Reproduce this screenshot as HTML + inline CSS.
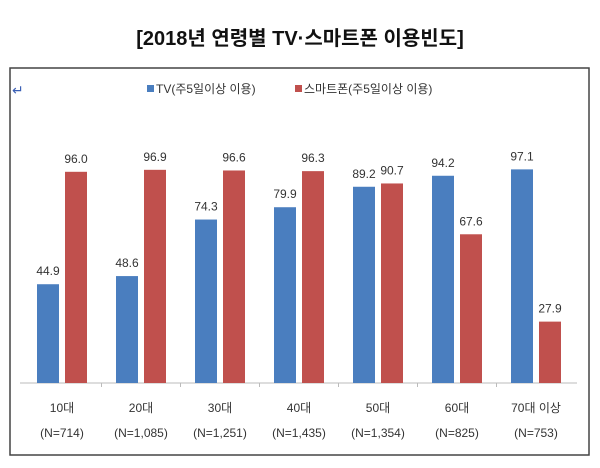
<!DOCTYPE html>
<html><head><meta charset="utf-8"><style>
body{margin:0;background:#fff;width:600px;height:468px;overflow:hidden;font-family:"Liberation Sans","Noto Sans CJK KR",sans-serif}
</style></head><body>
<svg width="600" height="468" style="position:absolute;left:0;top:0">
<text x="300" y="45" text-anchor="middle" font-size="20" font-weight="bold" fill="#111">[2018년 연령별 TV·스마트폰 이용빈도]</text>
<rect x="10" y="68" width="579" height="387" fill="none" stroke="#444" stroke-width="1.5"/>
<text x="12" y="95" font-size="14" fill="#3a5fb5">↵</text>
<g>
<rect x="147" y="85" width="7" height="7" fill="#4a7ebf"/>
<text x="156" y="93" font-size="12" fill="#333">TV(주5일이상 이용)</text>
<rect x="295" y="85" width="7" height="7" fill="#c0504d"/>
<text x="304" y="93" font-size="12" fill="#333">스마트폰(주5일이상 이용)</text>
</g>
<g id="plot"></g>
</svg>
<script>
const categories=["10대","20대","30대","40대","50대","60대","70대 이상"];
const sampleSizes=["(N=714)","(N=1,085)","(N=1,251)","(N=1,435)","(N=1,354)","(N=825)","(N=753)"];
const tvValues=[44.9,48.6,74.3,79.9,89.2,94.2,97.1];
const phoneValues=[96.0,96.9,96.6,96.3,90.7,67.6,27.9];
const NS="http://www.w3.org/2000/svg";
const g=document.getElementById('plot');
const baseY=383, scale=2.2;
function xc(i){return 62+79*i;}
function y(v){return baseY-v*scale;}
function mk(t,a){const e=document.createElementNS(NS,t);for(const k in a)e.setAttribute(k,a[k]);g.appendChild(e);return e;}
const ax=mk('line',{x1:20,x2:577,y1:baseY,y2:baseY,stroke:'#bbb','stroke-width':1});


categories.forEach((c,i)=>{
  const cx=xc(i);
  const b1=mk('rect',{x:cx-25,y:y(tvValues[i]),width:22,height:tvValues[i]*scale,fill:'#4a7ebf'});
  
  
  const b2=mk('rect',{x:cx+3,y:y(phoneValues[i]),width:22,height:phoneValues[i]*scale,fill:'#c0504d'});
  
  
  const l1=mk('text',{x:cx-14,y:y(tvValues[i])-9,'text-anchor':'middle','font-size':12,fill:'#333'});
  l1.textContent=tvValues[i].toFixed(1);
  
  
  const l2=mk('text',{x:cx+14,y:y(phoneValues[i])-9,'text-anchor':'middle','font-size':12,fill:'#333'});
  l2.textContent=phoneValues[i].toFixed(1);
  
  
  const t1=mk('text',{x:cx,y:412,'text-anchor':'middle','font-size':12,fill:'#333'});
  t1.textContent=c;
  
  
  const t2=mk('text',{x:cx,y:437,'text-anchor':'middle','font-size':12,fill:'#333'});
  t2.textContent=sampleSizes[i];
  
  
  if(i>0){const tk=mk('line',{x1:cx-39.5,x2:cx-39.5,y1:baseY,y2:baseY+4,stroke:'#bbb'});
  
  }
});
</script>
</body></html>
